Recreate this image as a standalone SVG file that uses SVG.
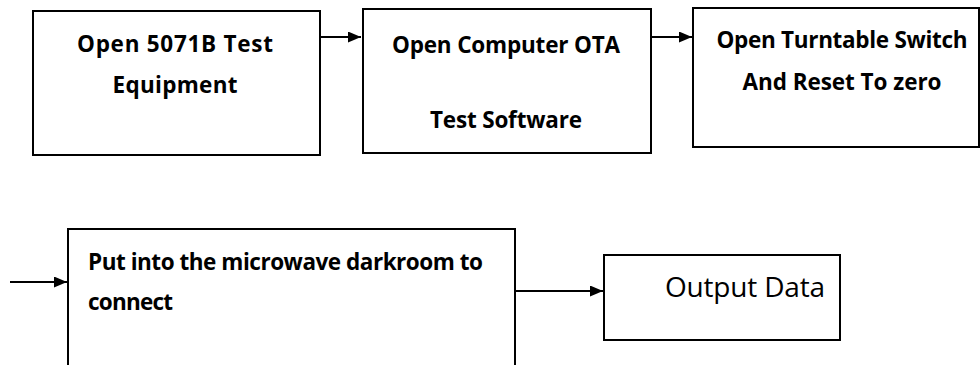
<svg xmlns="http://www.w3.org/2000/svg" width="980" height="365" viewBox="0 0 980 365">
<style>
.box{fill:#fff;stroke:#000;stroke-width:2}
.t{font-family:"Open Sans",Lato,sans-serif;font-weight:bold;font-size:22.5px;fill:#000}
.r{font-family:"Open Sans",Lato,sans-serif;font-size:28px;fill:#000}
.c{stroke:#000;stroke-width:1.8;fill:none}
</style>
<defs>
<marker id="ah" viewBox="0 0 13 11" refX="13" refY="5.5" markerWidth="13" markerHeight="11" markerUnits="userSpaceOnUse" orient="auto">
<path d="M0,0 L13,5.5 L0,11 z" fill="#000"/>
</marker>
</defs>
<rect width="980" height="365" fill="#fff"/>
<g id="n1">
<rect class="box" x="33" y="11" width="287" height="144"/>
<text class="t" x="175" y="52" text-anchor="middle" textLength="196">Open 5071B Test</text>
<text class="t" x="175" y="93" text-anchor="middle" textLength="125">Equipment</text>
</g>
<g id="n2">
<rect class="box" x="363" y="9" width="288" height="144"/>
<text class="t" x="506" y="53" text-anchor="middle" textLength="228">Open Computer OTA</text>
<text class="t" x="506" y="128" text-anchor="middle" textLength="152">Test Software</text>
</g>
<g id="n3">
<rect class="box" x="693" y="8" width="286" height="139"/>
<text class="t" x="842" y="48" text-anchor="middle" textLength="251">Open Turntable Switch</text>
<text class="t" x="842" y="90" text-anchor="middle" textLength="199">And Reset To zero</text>
</g>
<g id="n4">
<path class="box" d="M68,366 V229 H515 V366"/>
<text class="t" x="88" y="270" textLength="395">Put into the microwave darkroom to</text>
<text class="t" x="88" y="310" textLength="85">connect</text>
</g>
<g id="n5">
<rect class="box" x="604" y="255" width="236" height="85"/>
<text class="r" x="745" y="297" text-anchor="middle" textLength="160">Output Data</text>
</g>
<g id="connectors">
<line class="c" x1="320" y1="37" x2="361" y2="37" marker-end="url(#ah)"/>
<line class="c" x1="651" y1="37" x2="692" y2="37" marker-end="url(#ah)"/>
<line class="c" x1="10" y1="282" x2="67" y2="282" marker-end="url(#ah)"/>
<line class="c" x1="515" y1="291" x2="603" y2="291" marker-end="url(#ah)"/>
</g>
</svg>
